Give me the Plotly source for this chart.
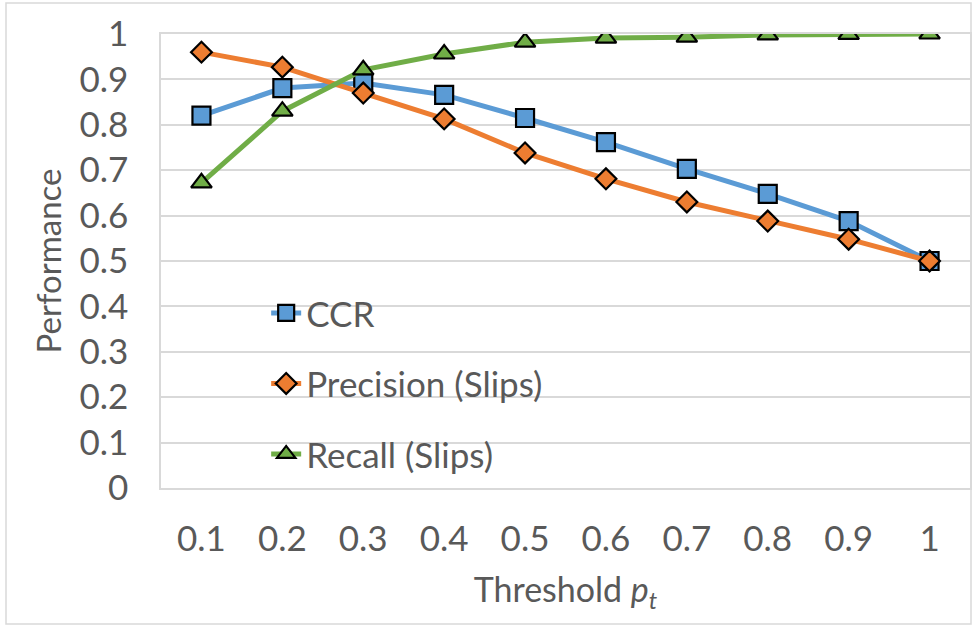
import plotly.graph_objects as go

thresholds = ["0.1", "0.2", "0.3", "0.4", "0.5", "0.6", "0.7", "0.8", "0.9", "1"]
ccr = [0.82, 0.881, 0.892, 0.866, 0.815, 0.762, 0.703, 0.648, 0.588, 0.50]
precision = [0.960, 0.927, 0.870, 0.813, 0.738, 0.681, 0.630, 0.588, 0.548, 0.50]
recall = [0.672, 0.830, 0.921, 0.956, 0.982, 0.991, 0.993, 0.998, 0.999, 1.0]
y_ticks = [0, 0.1, 0.2, 0.3, 0.4, 0.5, 0.6, 0.7, 0.8, 0.9, 1]
y_tick_text = ["0", "0.1", "0.2", "0.3", "0.4", "0.5", "0.6", "0.7", "0.8", "0.9", "1"]

FONT = "Lato"
TEXT = "#595959"
GRID = "#d9d9d9"

series = [
    ("CCR", ccr, "#5B9BD5", "square", 18),
    ("Precision (Slips)", precision, "#ED7D31", "diamond", 16),
    ("Recall (Slips)", recall, "#70AD47", "triangle-up", 18),
]

fig = go.Figure()
for name, vals, color, symbol, size in series:
    fig.add_trace(go.Scatter(
        x=thresholds, y=vals, name=name, mode="lines+markers",
        legendgroup=name,
        line=dict(color=color, width=5),
        marker=dict(symbol=symbol, size=size, color=color,
                    line=dict(color="black", width=2.2)),
    ))

fig.update_layout(
    width=975, height=630,
    paper_bgcolor="white", plot_bgcolor="white",
    margin=dict(l=161, r=5, t=34, b=142),
    font=dict(family=FONT, color=TEXT, size=34),
    showlegend=True,
    legend=dict(
        x=0.13, y=0.45, xanchor="left", yanchor="top",
        bgcolor="rgba(0,0,0,0)",
        font=dict(size=35, color=TEXT, family=FONT),
        traceorder="grouped", tracegroupgap=22,
        itemwidth=30,
    ),
    xaxis=dict(
        type="category",
        range=[-0.5, len(thresholds) - 0.5],
        automargin=False,
        showgrid=False,
        showline=True, linecolor=GRID, linewidth=1.5, mirror=True,
        ticks="", tickfont=dict(size=35, color=TEXT),
        ticklabelstandoff=19,
        title=dict(text="Threshold <i>p</i><sub><i>t</i></sub>",
                   font=dict(size=34, color=TEXT), standoff=21),
    ),
    yaxis=dict(
        range=[0, 1],
        automargin=False,
        tickvals=y_ticks, ticktext=y_tick_text,
        showgrid=True, gridcolor=GRID, gridwidth=1.5,
        showline=True, linecolor=GRID, linewidth=1.5, mirror=True,
        zeroline=False,
        ticks="", tickfont=dict(size=35, color=TEXT),
        ticklabelstandoff=24,
        title=dict(text="Performance", font=dict(size=33, color=TEXT), standoff=8),
    ),
)

# thin frame around the whole chart
pw, ph = 975 - 161 - 5, 630 - 34 - 142
fig.add_shape(type="rect", xref="paper", yref="paper",
              x0=(6 - 161) / pw, x1=(971 - 161) / pw,
              y0=(488 - 624) / ph, y1=(488 - 3) / ph,
              line=dict(color=GRID, width=1.5), layer="below")

fig.write_html("out.html")
